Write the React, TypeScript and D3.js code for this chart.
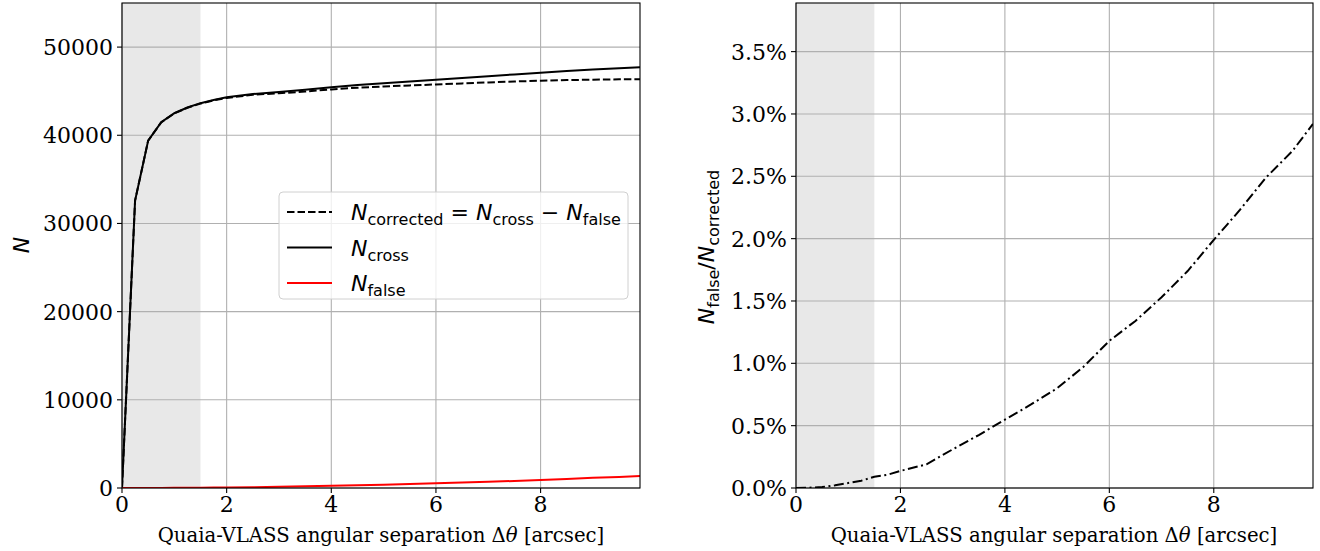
import * as d3 from "d3";

// angular separation [arcsec]
const sep = [0, 0.25, 0.5, 0.75, 1, 1.25, 1.5, 1.75, 2, 2.5, 3, 3.5, 4, 4.5, 5, 5.5, 6, 6.5, 7, 7.5, 8, 8.5, 9, 9.5, 9.9];
const nCross = [0, 32600, 39400, 41480, 42500, 43150, 43640, 44000, 44300, 44680, 44900, 45150, 45450, 45700, 45900, 46100, 46300, 46500, 46700, 46900, 47100, 47300, 47450, 47600, 47700];
const nFalse = [0, 1, 3, 9, 17, 25, 39, 47, 61, 85, 139, 191, 248, 304, 364, 443, 540, 615, 704, 802, 919, 1032, 1153, 1251, 1353];
const nCorrected = [0, 32599, 39397, 41471, 42483, 43125, 43601, 43953, 44239, 44595, 44761, 44959, 45202, 45396, 45536, 45657, 45760, 45885, 45996, 46098, 46181, 46268, 46297, 46349, 46347];
// N_false / N_corrected in percent
const falseFrac = [0, 0.002, 0.008, 0.022, 0.04, 0.058, 0.09, 0.106, 0.137, 0.19, 0.31, 0.425, 0.548, 0.67, 0.8, 0.97, 1.18, 1.34, 1.53, 1.74, 1.99, 2.23, 2.49, 2.7, 2.92];

const xTicks = [0, 2, 4, 6, 8];
const nTicks = [0, 10000, 20000, 30000, 40000, 50000];
const fracTicks = [0, 0.5, 1, 1.5, 2, 2.5, 3, 3.5];
const shadeMax = 1.5;

const W = 1320;
const H = 551;
const top = 3;
const bottom = 488;
const serif = "DejaVu Serif";
const sans = "DejaVu Sans";
const grid = "#b0b0b0";

const XLabel = ({ cx }: { cx: number }) => (
  <text x={cx} y={542} textAnchor="middle" fontFamily={serif} fontSize={19.7}>
    Quaia-VLASS angular separation Δ<tspan fontStyle="italic">θ</tspan> [arcsec]
  </text>
);

const Panel = ({
  left,
  right,
  yMax,
  yTicks,
  fmt,
  children,
}: {
  left: number;
  right: number;
  yMax: number;
  yTicks: number[];
  fmt: (v: number) => string;
  children: (x: d3.ScaleLinear<number, number>, y: d3.ScaleLinear<number, number>) => React.ReactNode;
}) => {
  const x = d3.scaleLinear().domain([0, 9.9]).range([left, right]);
  const y = d3.scaleLinear().domain([0, yMax]).range([bottom, top]);
  const id = `clip${left}`;
  return (
    <g>
      <defs>
        <clipPath id={id}>
          <rect x={left} y={top} width={right - left} height={bottom - top} />
        </clipPath>
      </defs>
      <rect x={x(0)} y={top} width={x(shadeMax) - x(0)} height={bottom - top} fill="#e8e8e8" />
      {xTicks.map((t) => (
        <line key={"gx" + t} x1={x(t)} x2={x(t)} y1={top} y2={bottom} stroke={grid} strokeWidth={1.1} />
      ))}
      {yTicks.map((t) => (
        <line key={"gy" + t} x1={left} x2={right} y1={y(t)} y2={y(t)} stroke={grid} strokeWidth={1.1} />
      ))}
      <g clipPath={`url(#${id})`}>{children(x, y)}</g>
      <rect x={left} y={top} width={right - left} height={bottom - top} fill="none" stroke="#000" strokeWidth={1.1} />
      {xTicks.map((t) => (
        <g key={"tx" + t}>
          <line x1={x(t)} x2={x(t)} y1={bottom} y2={bottom + 5} stroke="#000" strokeWidth={1.1} />
          <text x={x(t)} y={bottom + 24} textAnchor="middle" fontFamily={serif} fontSize={22}>
            {t}
          </text>
        </g>
      ))}
      {yTicks.map((t) => (
        <g key={"ty" + t}>
          <line x1={left - 5} x2={left} y1={y(t)} y2={y(t)} stroke="#000" strokeWidth={1.1} />
          <text x={left - 9} y={y(t) + 8} textAnchor="end" fontFamily={serif} fontSize={22}>
            {fmt(t)}
          </text>
        </g>
      ))}
    </g>
  );
};

// N with a subscript; `after` is text placed back on the baseline
const Sub = (s: string, after: string, key: string, fs = 16) => [
  <tspan key={key + "n"} fontStyle="italic">N</tspan>,
  <tspan key={key + "s"} fontSize={fs} dy={5}>{s}</tspan>,
  <tspan key={key + "r"} dy={-5}>{after || " "}</tspan>,
];

export default function App() {
  const pts = (arr: number[]) => arr.map((v, i) => [sep[i], v] as [number, number]);
  const legendRows = [
    {
      dash: "7.5,3",
      color: "#000",
      label: [...Sub("corrected", " = ", "a"), ...Sub("cross", " \u2212 ", "b"), ...Sub("false", "", "c")],
    },
    { dash: "", color: "#000", label: Sub("cross", "", "d") },
    { dash: "", color: "#ff0000", label: Sub("false", "", "e") },
  ];
  return (
    <svg width={W} height={H} style={{ position: "absolute", left: 0, top: 0, background: "#fff" }}>
      <Panel left={122} right={640} yMax={55000} yTicks={nTicks} fmt={(v) => String(v)}>
        {(x, y) => {
          const line = d3.line<[number, number]>().x((d) => x(d[0])).y((d) => y(d[1]));
          return (
            <g fill="none" strokeWidth={2}>
              <path d={line(pts(nCorrected)) ?? ""} stroke="#000" strokeDasharray="7.5,3" />
              <path d={line(pts(nCross)) ?? ""} stroke="#000" />
              <path d={line(pts(nFalse)) ?? ""} stroke="#ff0000" />
            </g>
          );
        }}
      </Panel>
      <Panel left={796} right={1313} yMax={3.89} yTicks={fracTicks} fmt={(v) => `${v.toFixed(1)}%`}>
        {(x, y) => {
          const line = d3.line<[number, number]>().x((d) => x(d[0])).y((d) => y(d[1]));
          return (
            <path d={line(pts(falseFrac)) ?? ""} fill="none" stroke="#000" strokeWidth={2} strokeDasharray="10,3.5,2,3.5" />
          );
        }}
      </Panel>

      <XLabel cx={381} />
      <XLabel cx={1054} />

      <text transform="translate(29,245) rotate(-90)" textAnchor="middle" fontFamily={sans} fontSize={22} fontStyle="italic">
        N
      </text>
      <text transform="translate(714,247) rotate(-90)" textAnchor="middle" fontFamily={sans} fontSize={22}>
        {Sub("false", "/", "f", 16)}
        {Sub("corrected", "", "g", 16)}
      </text>

      <g>
        <rect x={279} y={192} width={349} height={107} rx={4} fill="#fff" fillOpacity={0.8} stroke="#d0d0d0" />
        {legendRows.map((r, i) => (
          <g key={i}>
            <line x1={287} x2={332} y1={212 + i * 35.5} y2={212 + i * 35.5} stroke={r.color} strokeWidth={2} strokeDasharray={r.dash} />
            <text x={351} y={220 + i * 35.5} fontFamily={sans} fontSize={22}>
              {r.label}
            </text>
          </g>
        ))}
      </g>
    </svg>
  );
}
